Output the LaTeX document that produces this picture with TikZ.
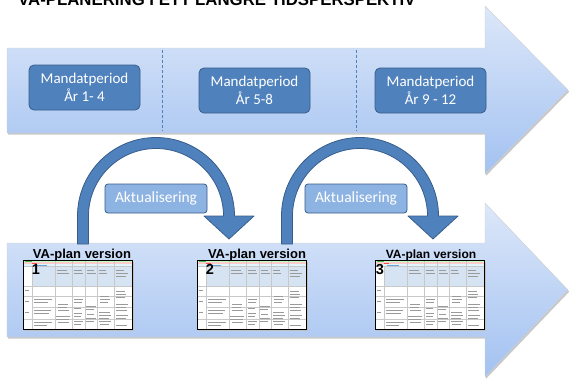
\documentclass[tikz,border=0pt]{standalone}
\usepackage{fontspec}
\setmainfont{Carlito}
\newfontfamily\arialfont{Liberation Sans}
\definecolor{boxblue}{HTML}{4F81BD}
\definecolor{boxedge}{HTML}{385D8A}
\definecolor{lightbox}{HTML}{8DB3E2}
\definecolor{arrowtop}{HTML}{DCE7F9}
\definecolor{arrowbot}{HTML}{A3C2F1}
\definecolor{hdrblue}{HTML}{D5E3F2}
\definecolor{gridgray}{HTML}{C8C8C8}
\definecolor{txtgray}{HTML}{9A9A9A}
\tikzset{
  bigarrow/.style={top color=arrowtop, bottom color=arrowbot, draw=black!18, line width=0.4pt},
  arrowshadow/.style={fill=black!22},
  mandat/.style={draw=boxedge, fill=boxblue, rounded corners=5pt, text=white,
    font=\fontsize{15}{18}\selectfont, align=center, minimum width=111pt,
    minimum height=45pt, inner sep=0pt, line width=0.8pt},
  aktual/.style={draw=boxedge, fill=lightbox, rounded corners=3pt, text=white,
    font=\fontsize{15.5}{18}\selectfont, minimum width=102pt, minimum height=29pt,
    inner sep=0pt, line width=0.8pt},
  curvearrow/.style={fill=boxblue, draw=boxedge, line width=0.8pt, line join=round},
  divider/.style={draw=boxblue, dash pattern=on 3pt off 2pt, line width=0.8pt},
  vaplan/.style={font=\arialfont\bfseries\fontsize{13}{15}\selectfont, inner sep=0pt, anchor=base},
  numlbl/.style={font=\arialfont\bfseries\fontsize{14.5}{16}\selectfont, inner sep=0pt},
  titlestyle/.style={font=\arialfont\bfseries\fontsize{16.8}{19}\selectfont, inner sep=0pt, anchor=base west},
  vathumb/.pic={
    \fill[black!25] (1.5,1.5) rectangle (110.5,70.5);
    \fill[white] (0,0) rectangle (109,69);
    \fill[green!25!white] (0,0.6) rectangle (109,2.2);
    \fill[red!20!white] (0,2.2) rectangle (109,4);
    \fill[cyan!12!white] (0,4) rectangle (109,6);
    \fill[hdrblue] (9,6) rectangle (109,26);
    \fill[green!60!black!70] (2,1) rectangle (9,2);
    \fill[red!70] (9,2.8) rectangle (14,3.5);
    \fill[cyan!60!blue!60] (12,4.6) rectangle (24,5.4);
    \draw[gridgray, line width=0.3pt] (0,6) -- (109,6) (0,26) -- (109,26) (0,36) -- (109,36)
      (9,47) -- (109,47) (0,59) -- (109,59)
      (9,6) -- (9,69) (32,0) -- (32,69) (49,0) -- (49,69) (62,0) -- (62,69)
      (74,0) -- (74,69) (91,0) -- (91,69);
    \foreach \a/\b/\c in {34/10/10,34/13/12,51/10/8,51/13/9,64/10/7,64/13/9,76/10/7,76/13/8,
      93/10/8,93/13/12,93/16/10,11/39/18,11/42/14,11/50/17,11/53/15,11/62/18,11/65/13,
      35/44/10,35/47/9,35/50/11,33/56/14,33/59/13,35/62/11,51/39/9,51/42/8,51/48/7,51/53/8,
      51/56/7,51/61/9,51/64/7,63/46/10,63/49/8,64/54/7,63/58/10,63/61/8,77/36/9,77/39/10,
      77/42/8,76/52/11,76/55/12,76/58/10,76/61/12,77/64/9,93/31/9,93/34/10,93/37/9,93/44/12,
      93/47/10,93/50/11,93/55/12,93/58/10,93/65/11,2/30/4,2/41/4,2/52/4}
      \draw[txtgray, line width=0.7pt] (\a,\b) -- ++(\c,0);
    \draw[black, line width=0.8pt] (0,0) rectangle (109,69);
  }
}
\begin{document}
\begin{tikzpicture}[x=1pt,y=-1pt]
\useasboundingbox (0,0) rectangle (570,386);
\clip (0,0) rectangle (570,386);
\fill[white] (0,0) rectangle (570,386);

% title (cut off at the top edge, as in the reference)
\node[titlestyle] (title) at (18,5.5) {VA-PLANERING I ETT LÄNGRE TIDSPERSPEKTIV};

% top timeline arrow
\begin{scope}[shift={(1.2,1.6)}]
  \fill[arrowshadow] (7,48) -- (485,48) -- (485,6) -- (568,90) -- (485,174) -- (485,133) -- (7,133) -- cycle;
\end{scope}
\path[bigarrow] (7,48) -- (485,48) -- (485,6) -- (568,90) -- (485,174) -- (485,133) -- (7,133) -- cycle;
\draw[divider] (162,50) -- (162,131);
\draw[divider] (356,50) -- (356,131);

\node[mandat] (m1) at (84.5,87.5) {Mandatperiod\\År 1- 4};
\node[mandat] (m2) at (254.5,90.5) {Mandatperiod\\År 5-8};
\node[mandat] (m3) at (430.5,90.5) {Mandatperiod\\År 9 - 12};

% bottom arrow
\begin{scope}[shift={(1.2,1.6)}]
  \fill[arrowshadow] (7,243) -- (485,243) -- (485,203) -- (568,290) -- (485,377) -- (485,337) -- (7,337) -- cycle;
\end{scope}
\path[bigarrow] (7,243) -- (485,243) -- (485,203) -- (568,290) -- (485,377) -- (485,337) -- (7,337) -- cycle;

% thumbnails
\pic (t1) at (23,260) {vathumb};
\pic (t2) at (197,260) {vathumb};
\pic (t3) at (375,260) {vathumb};
\node[numlbl] (n1) at (36,269.5) {1};
\node[numlbl] (n2) at (210,269.5) {2};
\node[numlbl] (n3) at (380,269.5) {3};
\node[vaplan] (v1) at (82,258) {VA-plan version};
\node[vaplan] (v2) at (257,258) {VA-plan version};
\node[vaplan, font=\arialfont\bfseries\fontsize{12}{14}\selectfont] (v3) at (431,258) {VA-plan version};

% curved update arrows
\path[curvearrow] (77.5,244) -- (77.5,216) arc[start angle=180,end angle=360,radius=78.5]
  -- (254,216) -- (229,239) -- (204,216) -- (223.5,216)
  arc[start angle=360,end angle=180,radius=67.5] -- (88.5,244) -- cycle;
\path[curvearrow] (281.5,244) -- (281.5,216) arc[start angle=180,end angle=360,radius=78.5]
  -- (458,216) -- (433,239) -- (408,216) -- (427.5,216)
  arc[start angle=360,end angle=180,radius=67.5] -- (292.5,244) -- cycle;

\node[aktual] (a1) at (156,198.5) {Aktualisering};
\node[aktual] (a2) at (356,198.5) {Aktualisering};
\end{tikzpicture}
\end{document}
